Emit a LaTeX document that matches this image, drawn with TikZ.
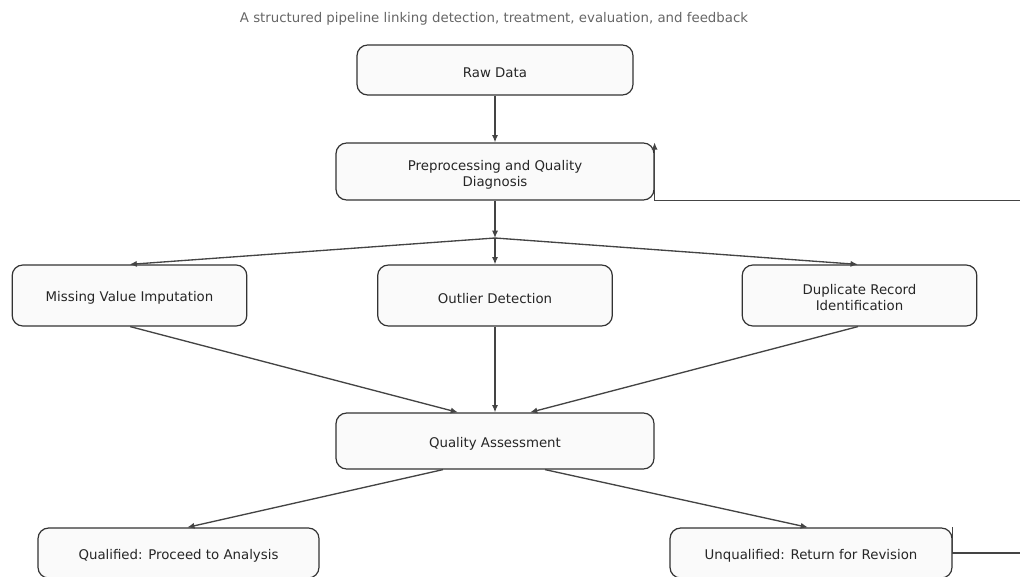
\documentclass[tikz,border=0pt]{standalone}
\usepackage{fontspec}
\setmainfont{DejaVu Sans}
\usetikzlibrary{arrows.meta}
\definecolor{edgegray}{HTML}{444444}
\definecolor{boxfill}{HTML}{FAFAFA}
\definecolor{titlegray}{HTML}{666666}
% two centred lines, pushed a little below the middle of the box
\newcommand{\twolines}[2]{\begin{tabular}{@{}c@{}}\rule{0pt}{13.6pt}#1\\#2\end{tabular}}
\begin{document}
\begin{tikzpicture}[x=0.75pt, y=-0.75pt, font=\fontsize{10}{12}\selectfont,
    stage/.style={draw=black!80, fill=boxfill, rounded corners=8pt, line width=0.9pt,
      align=center, text=black!85, inner sep=0pt,
      execute at begin node={\rule{0pt}{11.4pt}}},
    flow/.style={-{Latex[length=5.5pt, width=4.6pt]}, draw=edgegray, line width=1pt}]
  \useasboundingbox (0,0) rectangle (1020,577);
  \node[text=titlegray] (title) at (494,18.5)
    {A structured pipeline linking detection, treatment, evaluation, and feedback};
  % main column
  \node[stage, minimum width=207pt, minimum height=37.5pt] (raw) at (495,70) {Raw Data};
  \node[stage, minimum width=238.5pt, minimum height=42.75pt] (prep) at (495,171.5)
    {\twolines{Preprocessing and Quality}{Diagnosis}};
  \foreach \n/\x/\t in {miss/129.5/{Missing Value Imputation},
      outl/495/{Outlier Detection}, dup/859.5/{\twolines{Duplicate Record}{Identification}}} {
    \node[stage, minimum width=176pt, minimum height=45.75pt] (\n) at (\x,295.5) {\t};
  }
  \node[stage, minimum width=238.5pt, minimum height=42pt] (qa) at (495,441)
    {Quality Assessment};
  \node[stage, minimum width=210.75pt, minimum height=37.5pt] (pass) at (178.5,553)
    {Qualified: Proceed to Analysis};
  \node[stage, minimum width=211.5pt, minimum height=37.5pt] (fail) at (811,553)
    {Unqualified: Return for Revision};
  % connectors
  \coordinate (fork) at (495,238);
  \coordinate (loop) at (1045,553);
  \draw[flow] (raw) -- (prep);
  \draw[flow] (prep) -- (fork);
  \draw[flow] (fork) -- (miss.north);
  \draw[flow] (fork) -- (outl.north);
  \draw[flow] (fork) -- ([xshift=-1.2pt]dup.north);
  \draw[flow] ([xshift=0.5pt]miss.south) -- ([xshift=-27.75pt]qa.north);
  \draw[flow] (outl) -- (qa);
  \draw[flow] ([xshift=-1.2pt]dup.south) -- ([xshift=26.25pt]qa.north);
  \draw[flow] ([xshift=-39pt]qa.south) -- ([xshift=6.5pt]pass.north);
  \draw[flow] ([xshift=37.5pt]qa.south) -- ([xshift=-2.25pt]fail.north);
  % feedback loop
  \draw[flow] (fail.north east) |- (loop) |- (prep.south east) -- (prep.north east);
\end{tikzpicture}
\end{document}
